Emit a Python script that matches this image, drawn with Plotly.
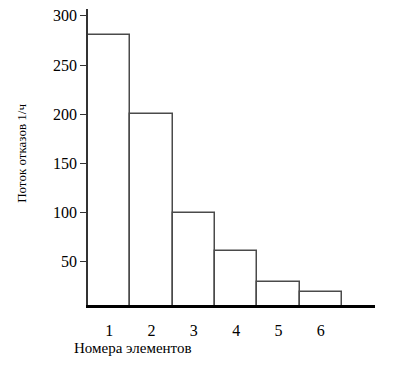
import plotly.graph_objects as go

elements = [1, 2, 3, 4, 5, 6]
failure_flow = [281, 200, 100, 61, 29, 19]
tick_labels = ["1", "2", "3", "4", "5", "6"]
y_ticks = [50, 100, 150, 200, 250, 300]

font_family = "Liberation Serif"
serif = dict(family=font_family, color="black")

fig = go.Figure(go.Bar(
    x=elements, y=failure_flow, width=1,
    marker=dict(color="white", line=dict(color="#4a4a4a", width=1.5)),
    hoverinfo="skip",
))

# page body has an 8px default margin, so the figure is sized to fit the window
fig.update_layout(
    width=388, height=359,
    margin=dict(l=80, r=21, t=1, b=62, autoexpand=False),
    paper_bgcolor="white", plot_bgcolor="white",
    showlegend=False, bargap=0,
    font=dict(family=font_family, color="black", size=16),
)
fig.update_xaxes(
    range=[0.5, 7.28], showgrid=False, zeroline=False, automargin=False,
    showline=True, linecolor="black", linewidth=3,
    tickvals=elements, ticktext=tick_labels, ticks="",
    ticklabelstandoff=9, tickfont=dict(size=16, **serif),
)
fig.update_yaxes(
    range=[6, 307], showgrid=False, zeroline=False, automargin=False,
    showline=True, linecolor="#333333", linewidth=1.5,
    tickvals=y_ticks, ticks="outside", ticklen=6, tickcolor="#333333",
    tickfont=dict(size=16, **serif), ticklabeloverflow="allow",
)
fig.add_annotation(
    text="Поток отказов 1/ч", xref="paper", yref="paper",
    x=-0.23, y=0.514, xanchor="center", yanchor="middle", textangle=-90,
    showarrow=False, font=dict(size=13, **serif),
)
fig.add_annotation(
    text="Номера элементов", xref="paper", yref="paper",
    x=0.157, y=-0.145, xanchor="center", yanchor="middle", showarrow=False,
    font=dict(size=15, **serif),
)
fig.write_html("out.html")
